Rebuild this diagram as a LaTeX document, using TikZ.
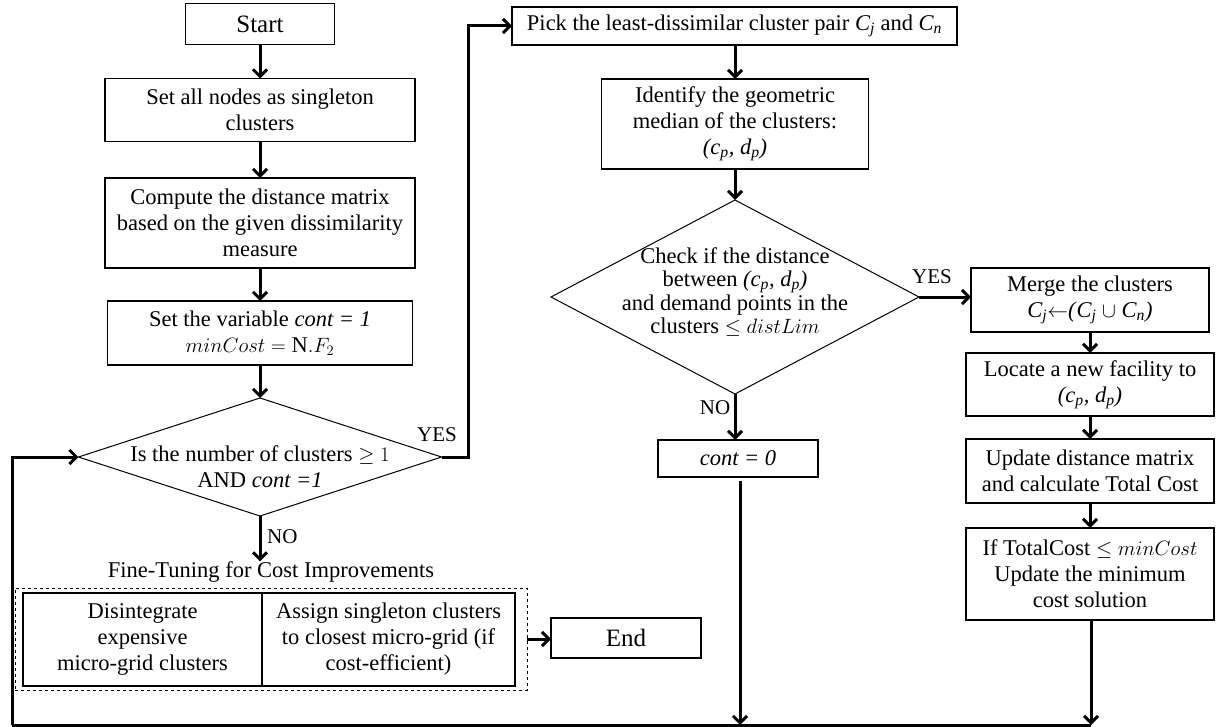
\documentclass[tikz,border=0pt]{standalone}
\usepackage{fontspec}
\setmainfont{Liberation Serif}
\usetikzlibrary{shapes.geometric,arrows.meta}
% italic point (c_p, d_p) and italic symbol with subscript
\newcommand{\cpdp}{\textit{(c\textsubscript{p}, d\textsubscript{p})}}
\newcommand{\itsub}[2]{\textit{#1\textsubscript{#2}}}

\begin{document}
\begin{tikzpicture}[x=1pt,y=-1pt,
  font=\fontsize{22.5}{26}\selectfont,
  box/.style={draw, line width=1.4pt, align=center, inner sep=2pt, outer sep=0pt},
  dia/.style={diamond, draw, line width=1pt, inner sep=0pt, outer sep=0pt},
  conn/.style={line width=3pt, -{Straight Barb[length=7pt,width=14pt]}},
  plain/.style={line width=3pt},
  lbl/.style={inner sep=0pt, font=\fontsize{21}{24}\selectfont},
  big/.style={font=\fontsize{25}{28}\selectfont}]
\useasboundingbox (0,0) rectangle (1220,727);

% ---- left column ----
\node[box, big, minimum width=149pt, minimum height=41pt] (start) at (260,24) {Start};
\node[box, minimum width=310pt, minimum height=63pt] (single) at (260,110)
  {Set all nodes as singleton\\clusters};
\node[box, minimum width=310pt, minimum height=90pt] (dist) at (260,223)
  {Compute the distance matrix\\based on the given dissimilarity\\measure};
\node[box, minimum width=305pt, minimum height=64pt] (init) at (260,333)
  {Set the variable \textit{cont = 1}\\$minCost = \mathrm{N}.F_2$};
\node[dia, minimum width=363pt, minimum height=118pt] (d1) at (260,457) {};
\node[align=center, inner sep=0pt] (d1txt) at (260,467)
  {Is the number of clusters $\geq 1$\\AND \textit{cont =1}};

% ---- fine-tuning stage ----
\node[inner sep=0pt] (ft) at (271,572) {Fine-Tuning for Cost Improvements};
\node[draw, dashed, line width=1pt, minimum width=512pt, minimum height=102pt,
      inner sep=0pt, outer sep=0pt] (fine) at (271,639) {};
\node[box, minimum width=239pt, minimum height=93pt] (disint) at (142.5,639.5)
  {Disintegrate\\expensive\\micro-grid clusters};
\node[box, minimum width=253pt, minimum height=93pt] (assign) at (388.5,639.5)
  {Assign singleton clusters\\to closest micro-grid (if\\cost-efficient)};
\node[box, big, minimum width=150pt, minimum height=40pt] (end) at (626,638) {End};

% ---- middle column ----
\node[box, minimum width=445pt, minimum height=38pt] (pick) at (734.5,26)
  {Pick the least-dissimilar cluster pair \itsub{C}{j} and \itsub{C}{n}};
\node[box, minimum width=267pt, minimum height=90pt] (median) at (735,124)
  {Identify the geometric\\median of the clusters:\\\cpdp};
\node[dia, minimum width=368pt, minimum height=194pt] (d2) at (735,297) {};
\node[align=center, inner sep=0pt, font=\fontsize{22.5}{23.5}\selectfont] (d2txt) at (735,292)
  {Check if the distance\\between \cpdp\\and demand points in the\\clusters $\leq distLim$};
\node[box, minimum width=160pt, minimum height=37pt] (stop) at (738,458.5)
  {\textit{cont = 0}};

% ---- right column ----
\node[box, minimum width=238pt, minimum height=64pt] (merge) at (1090,300)
  {Merge the clusters\\\itsub{C}{j}$\leftarrow$\textit{(}\itsub{C}{j} $\cup$ \itsub{C}{n}\textit{)}};
\node[box, minimum width=248pt, minimum height=63pt] (locate) at (1090,384.5)
  {Locate a new facility to\\\cpdp};
\node[box, minimum width=248pt, minimum height=64pt] (update) at (1090,471)
  {Update distance matrix\\and calculate Total Cost};
\node[box, minimum width=248pt, minimum height=92pt] (best) at (1090,574)
  {If TotalCost $\leq minCost$\\Update the minimum\\cost solution};

% ---- branch labels ----
\node[lbl] (yes1) at (437,435) {YES};
\node[lbl, anchor=west] (no1) at (267,537) {NO};
\node[lbl] (yes2) at (932,277) {YES};
\node[lbl] (no2) at (715,408) {NO};

% ---- connector corners ----
\coordinate (yesturn) at (468,26);
\coordinate (loopR) at (1091,725);
\coordinate (loopM) at (740,725);
\coordinate (loopL) at (12,725);

% ---- connectors ----
\draw[conn] (start) -- (single);
\draw[conn] (single) -- (dist);
\draw[conn] (dist) -- (init);
\draw[conn] (init) -- (d1.north);
\draw[conn] (d1.south) -- (d1.south |- ft.north);
\draw[conn] (fine.east) -- (fine.east -| end.west);
\draw[conn] (d1.east) -| (yesturn) -- (pick.west);
\draw[conn] (pick.south -| median.north) -- (median.north);
\draw[conn] (median) -- (d2.north);
\draw[conn] (d2.south) -- (d2.south |- stop.north);
\draw[conn] (d2.east) -- (d2.east -| merge.west);
\draw[conn] (merge) -- (locate);
\draw[conn] (locate) -- (update);
\draw[conn] (update) -- (best);
\draw[conn, shorten <=4pt] (stop.south -| loopM) -- (loopM);
\draw[conn] (best.south -| loopR) -- (loopR);
\draw[plain] (loopR) -- (loopL);
\draw[conn] (loopL) |- (d1.west);
\end{tikzpicture}
\end{document}
